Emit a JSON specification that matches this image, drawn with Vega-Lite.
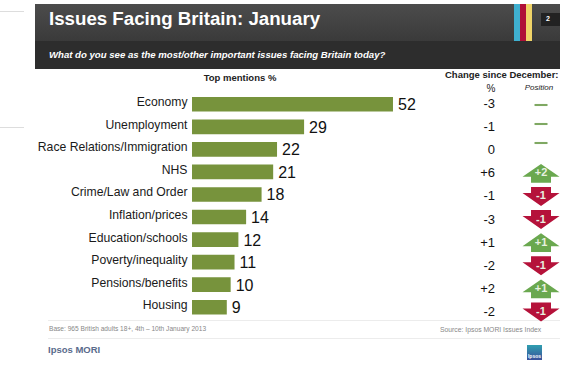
{"$schema":"https://vega.github.io/schema/vega-lite/v6.json","width":570,"height":371,"padding":0,"autosize":{"type":"none"},"background":"white","config":{"view":{"stroke":null},"text":{"font":"Liberation Sans"},"axis":{"labelFont":"Liberation Sans"}},
"datasets":{"issues":[
{"issue":"Economy","mentions":52,"change":"-3","position":"="},
{"issue":"Unemployment","mentions":29,"change":"-1","position":"="},
{"issue":"Race Relations/Immigration","mentions":22,"change":"0","position":"="},
{"issue":"NHS","mentions":21,"change":"+6","position":"+2"},
{"issue":"Crime/Law and Order","mentions":18,"change":"-1","position":"-1"},
{"issue":"Inflation/prices","mentions":14,"change":"-3","position":"-1"},
{"issue":"Education/schools","mentions":12,"change":"+1","position":"+1"},
{"issue":"Poverty/inequality","mentions":11,"change":"-2","position":"-1"},
{"issue":"Pensions/benefits","mentions":10,"change":"+2","position":"+1"},
{"issue":"Housing","mentions":9,"change":"-2","position":"-1"}]},
"resolve":{"scale":{"y":"independent"}},
"layer":[
{"data":{"values":[{}]},"mark":{"type":"rect","fill":{"x1":0,"y1":0,"x2":0,"y2":1,"gradient":"linear","stops":[{"offset":0,"color":"#4c4c4c"},{"offset":1,"color":"#3a3a3a"}]}},"encoding":{"x":{"value":35},"x2":{"value":560},"y":{"value":4},"y2":{"value":41}}},
{"data":{"values":[{}]},"mark":{"type":"rect","fill":"#2d2d2d"},"encoding":{"x":{"value":35},"x2":{"value":560},"y":{"value":41},"y2":{"value":69}}},
{"data":{"values":[{}]},"mark":{"type":"rect","fill":"#3fb0d0"},"encoding":{"x":{"value":514},"x2":{"value":520},"y":{"value":4},"y2":{"value":41}}},
{"data":{"values":[{}]},"mark":{"type":"rect","fill":"#b01038"},"encoding":{"x":{"value":520},"x2":{"value":526},"y":{"value":4},"y2":{"value":41}}},
{"data":{"values":[{}]},"mark":{"type":"rect","fill":"#f0d468"},"encoding":{"x":{"value":526},"x2":{"value":532},"y":{"value":4},"y2":{"value":41}}},
{"data":{"values":[{}]},"mark":{"type":"rect","fill":"#222222"},"encoding":{"x":{"value":541},"x2":{"value":560},"y":{"value":13},"y2":{"value":26}}},
{"data":{"values":[{}]},"mark":{"type":"rect","fill":"#dddddd"},"encoding":{"x":{"value":0},"x2":{"value":24},"y":{"value":11},"y2":{"value":12}}},
{"data":{"values":[{}]},"mark":{"type":"rect","fill":"#dddddd"},"encoding":{"x":{"value":0},"x2":{"value":24},"y":{"value":127},"y2":{"value":128}}},
{"data":{"values":[{}]},"mark":{"type":"rect","fill":"#ececec"},"encoding":{"x":{"value":48},"x2":{"value":560},"y":{"value":320},"y2":{"value":321}}},
{"data":{"values":[{}]},"mark":{"type":"rect","fill":"#ececec"},"encoding":{"x":{"value":48},"x2":{"value":560},"y":{"value":338},"y2":{"value":339}}},
{"data":{"values":[{}]},"mark":{"type":"rect","fill":{"x1":0,"y1":0,"x2":0,"y2":1,"gradient":"linear","stops":[{"offset":0,"color":"#2f9fb0"},{"offset":1,"color":"#3a4f9a"}]}},"encoding":{"x":{"value":527},"x2":{"value":542},"y":{"value":345},"y2":{"value":360}}},
{"data":{"values":[{"t":"Issues Facing Britain: January"}]},"mark":{"type":"text","align":"left","baseline":"alphabetic","fontWeight":"bold","fontSize":18.7,"fill":"white"},"encoding":{"text":{"field":"t"},"x":{"value":49},"y":{"value":25}}},
{"data":{"values":[{"t":"What do you see as the most/other important issues facing Britain today?"}]},"mark":{"type":"text","align":"left","baseline":"alphabetic","fontWeight":"bold","fontStyle":"italic","fontSize":9.6,"fill":"white"},"encoding":{"text":{"field":"t"},"x":{"value":49},"y":{"value":58}}},
{"data":{"values":[{"t":"2"}]},"mark":{"type":"text","align":"center","baseline":"middle","fontWeight":"bold","fontSize":7,"fill":"white"},"encoding":{"text":{"field":"t"},"x":{"value":548},"y":{"value":19}}},
{"data":{"values":[{"t":"Top mentions %"}]},"mark":{"type":"text","align":"center","baseline":"alphabetic","fontWeight":"bold","fontSize":9.5,"fill":"#222222"},"encoding":{"text":{"field":"t"},"x":{"value":240},"y":{"value":81}}},
{"data":{"values":[{"t":"Change since December:"}]},"mark":{"type":"text","align":"left","baseline":"alphabetic","fontWeight":"bold","fontSize":9.5,"fill":"#222222"},"encoding":{"text":{"field":"t"},"x":{"value":445},"y":{"value":78}}},
{"data":{"values":[{"t":"%"}]},"mark":{"type":"text","align":"center","baseline":"alphabetic","fontSize":10,"fill":"#222222"},"encoding":{"text":{"field":"t"},"x":{"value":491},"y":{"value":92}}},
{"data":{"values":[{"t":"Position"}]},"mark":{"type":"text","align":"center","baseline":"alphabetic","fontStyle":"italic","fontSize":8,"fill":"#222222"},"encoding":{"text":{"field":"t"},"x":{"value":539},"y":{"value":90}}},
{"data":{"values":[{"t":"Base: 965 British adults 18+, 4th – 10th January 2013"}]},"mark":{"type":"text","align":"left","baseline":"alphabetic","fontSize":6.6,"fill":"#888888"},"encoding":{"text":{"field":"t"},"x":{"value":49},"y":{"value":331}}},
{"data":{"values":[{"t":"Source: Ipsos MORI  Issues Index"}]},"mark":{"type":"text","align":"left","baseline":"alphabetic","fontSize":6.8,"fill":"#888888"},"encoding":{"text":{"field":"t"},"x":{"value":440},"y":{"value":332}}},
{"data":{"values":[{"t":"Ipsos MORI"}]},"mark":{"type":"text","align":"left","baseline":"alphabetic","fontWeight":"bold","fontSize":9.5,"fill":"#5a6b8c"},"encoding":{"text":{"field":"t"},"x":{"value":48},"y":{"value":353}}},
{"data":{"values":[{"t":"Ipsos"}]},"mark":{"type":"text","align":"center","baseline":"middle","fontWeight":"bold","fontSize":5,"fill":"white"},"encoding":{"text":{"field":"t"},"x":{"value":534.5},"y":{"value":356}}},
{"data":{"name":"issues"},
"encoding":{"y":{"field":"issue","type":"nominal","sort":null,"scale":{"range":[93,318.5],"paddingInner":0,"paddingOuter":0},"axis":{"title":null,"domain":false,"ticks":false,"grid":false,"offset":-187,"labelPadding":0,"labelFontSize":12.2,"labelColor":"#1a1a1a","labelLimit":200,"labelOffset":-2}}},
"layer":[
{"mark":{"type":"bar","fill":"#77933c","height":{"band":0.65}},"encoding":{"x":{"field":"mentions","type":"quantitative","stack":null,"scale":{"domain":[-49.68,97.8],"nice":false,"zero":false},"axis":null},"x2":{"datum":0}}},
{"mark":{"type":"text","align":"left","baseline":"middle","dx":5,"dy":1,"fontSize":16,"fill":"#111111"},"encoding":{"x":{"field":"mentions","type":"quantitative","stack":null},"text":{"field":"mentions"}}}
]},
{"data":{"name":"issues"},
"encoding":{"y":{"field":"issue","type":"nominal","sort":null,"scale":{"domain":["Economy","Unemployment","Race Relations/Immigration","NHS","Crime/Law and Order","Inflation/prices","Education/schools","Poverty/inequality","Pensions/benefits","Housing"],"range":[92.5,323.5],"paddingInner":0,"paddingOuter":0},"axis":null}},
"layer":[
{"mark":{"type":"text","align":"right","baseline":"middle","fontSize":13,"fill":"#111111"},"encoding":{"x":{"datum":78.4,"type":"quantitative"},"text":{"field":"change"}}},
{"transform":[{"filter":"datum.position[0]==='+'"}],"mark":{"type":"point","filled":true,"opacity":1,"fill":"#6aa84f","stroke":null,"shape":"M0,-0.51L1,0.19L0.54,0.19L0.54,0.51L-0.54,0.51L-0.54,0.19L-1,0.19Z","size":1369},"encoding":{"x":{"datum":90.3,"type":"quantitative"}}},
{"transform":[{"filter":"datum.position[0]==='-'"}],"mark":{"type":"point","filled":true,"opacity":1,"fill":"#b5123a","stroke":null,"shape":"M0,0.51L1,-0.19L0.54,-0.19L0.54,-0.51L-0.54,-0.51L-0.54,-0.19L-1,-0.19Z","size":1369},"encoding":{"x":{"datum":90.3,"type":"quantitative"}}},
{"transform":[{"filter":"datum.position!=='='"}],"mark":{"type":"text","align":"center","baseline":"middle","fontWeight":"bold","fontSize":11,"fill":"#e8f0e0"},"encoding":{"x":{"datum":90.3,"type":"quantitative"},"text":{"field":"position"}}}
]},
{"data":{"name":"issues"},"transform":[{"filter":"datum.position==='='"}],
"mark":{"type":"point","filled":true,"opacity":1,"fill":"#7fa862","stroke":null,"shape":"M-1,-0.16L1,-0.16L1,0.16L-1,0.16Z","size":169},
"encoding":{"x":{"datum":90.3,"type":"quantitative"},"y":{"field":"issue","type":"nominal","sort":null,"scale":{"domain":["Economy","Unemployment","Race Relations/Immigration"],"range":[95.5,152.5],"paddingInner":0,"paddingOuter":0},"axis":null}}}
]}
